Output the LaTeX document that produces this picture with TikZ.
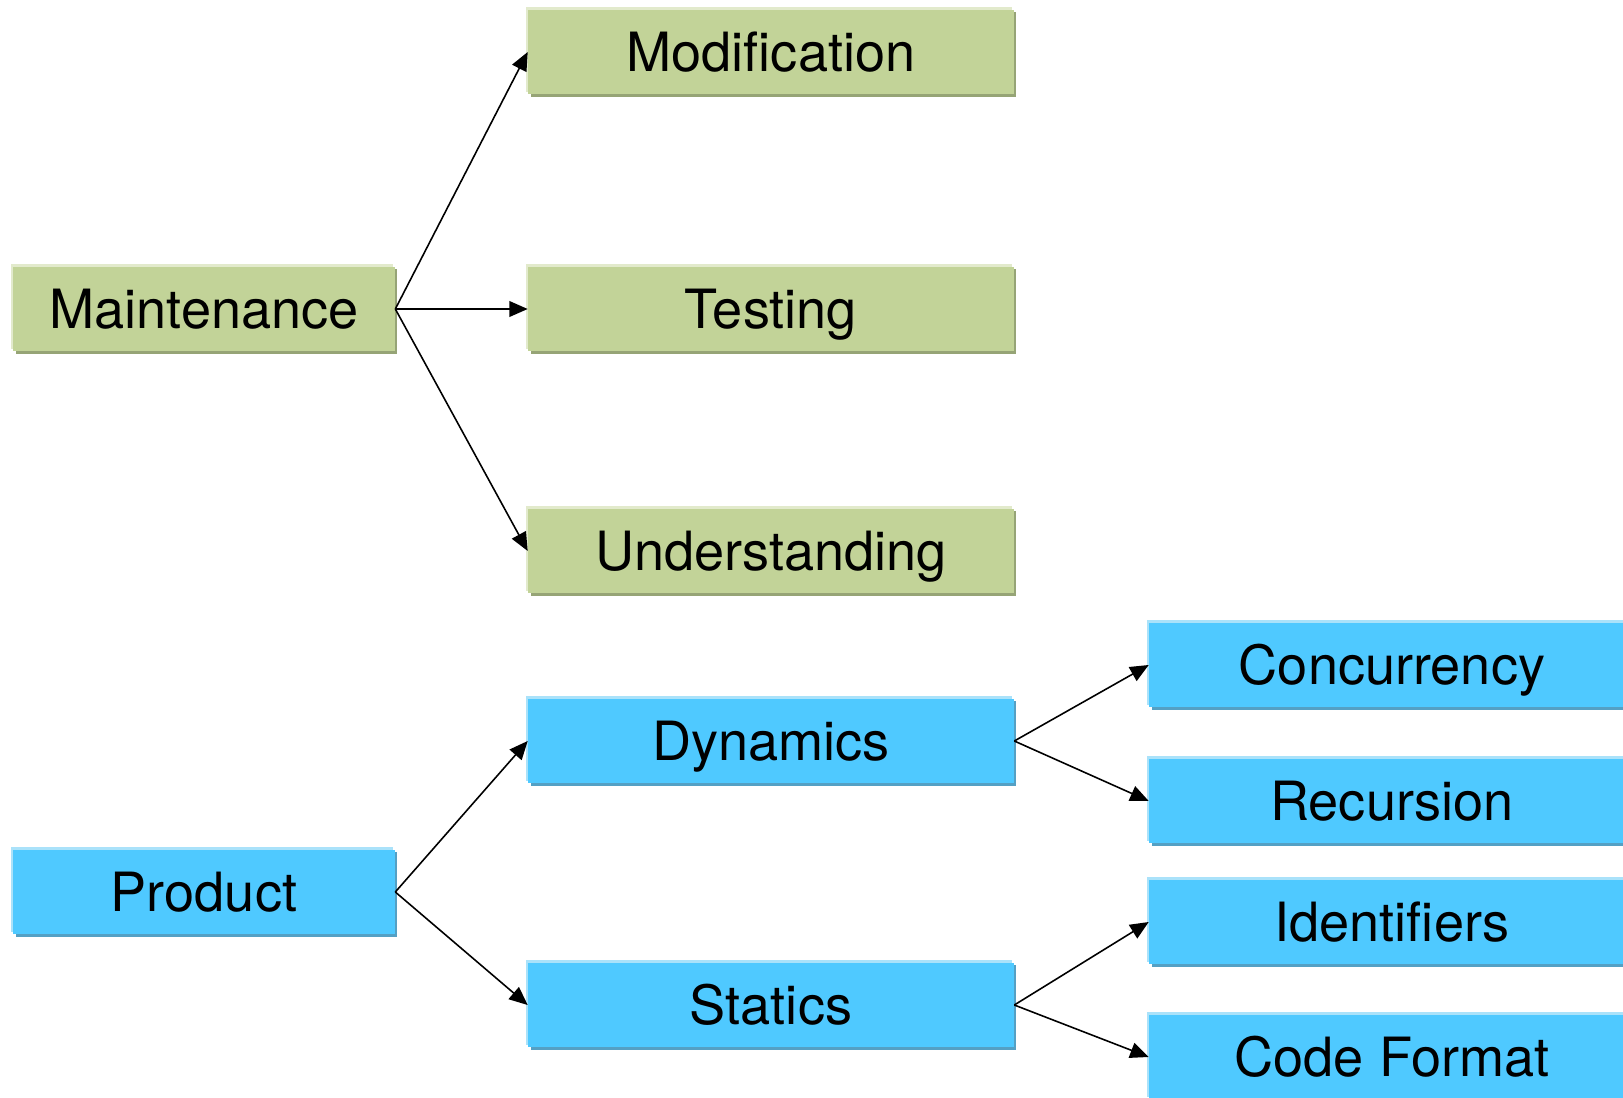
\documentclass[tikz,border=0pt]{standalone}
\usepackage{fontspec}
\setmainfont{TeX Gyre Heros}
\usetikzlibrary{positioning, arrows.meta, shadows}
\definecolor{greenfill}{RGB}{194,211,152}
\definecolor{greenlight}{RGB}{226,234,204}
\definecolor{greendark}{RGB}{150,164,118}
\definecolor{bluefill}{RGB}{79,201,255}
\definecolor{bluelight}{RGB}{170,226,250}
\definecolor{bluedark}{RGB}{84,160,196}
\tikzstyle{Arrow} = [
%Create custom arrow style:
line width=0.9pt,
-{Triangle[length=10.5pt, width=9pt]}
]

\begin{document}
\begin{tikzpicture}[x=0.02cm, y=-0.02cm,
				box/.style = {rectangle, minimum height = 1.7cm, inner sep = 0pt, text height = 22pt, text depth = 0pt, font = \fontsize{30.8}{36}\selectfont},
				greenbox/.style = {box, fill = greenfill,
					general shadow = {fill = greenlight, shadow xshift = -0.045cm, shadow yshift = 0.045cm},
					general shadow = {fill = greendark, shadow xshift = 0.05cm, shadow yshift = -0.05cm}},
				bluebox/.style = {box, fill = bluefill,
					general shadow = {fill = bluelight, shadow xshift = -0.045cm, shadow yshift = 0.045cm},
					general shadow = {fill = bluedark, shadow xshift = 0.05cm, shadow yshift = -0.05cm}},
				root/.style = {minimum width = 7.64cm},
				sub/.style = {minimum width = 9.72cm},
			]
			\useasboundingbox (0,0) rectangle (1623,1098);

			\node[greenbox, root](Maint) at (204,309){Maintenance};
			\node[greenbox, sub](Modif) at (771,52){Modification};
			\node[greenbox, sub](Test) at (771,309){Testing};
			\node[greenbox, sub](Under) at (771,551){Understanding};

			\node[bluebox, root](Prod) at (204,892){Product};
			\node[bluebox, sub](Dyn) at (771,741){Dynamics};
			\node[bluebox, sub](Stat) at (771,1005){Statics};
			\node[bluebox, sub](Conc) at (1392,665){Concurrency};
			\node[bluebox, sub](Recur) at (1392,801){Recursion};
			\node[bluebox, sub](Ident) at (1392,922){Identifiers};
			\node[bluebox, sub](Format) at (1392,1057){Code Format};

			\draw[Arrow](Maint.east)--(Modif.west);
			\draw[Arrow](Maint.east)--(Test.west);
			\draw[Arrow](Maint.east)--(Under.west);
			\draw[Arrow](Prod.east)--(Dyn.west);
			\draw[Arrow](Prod.east)--(Stat.west);
			\draw[Arrow](Dyn.east)--(Conc.west);
			\draw[Arrow](Dyn.east)--(Recur.west);
			\draw[Arrow](Stat.east)--(Ident.west);
			\draw[Arrow](Stat.east)--(Format.west);

		\end{tikzpicture}
\end{document}
